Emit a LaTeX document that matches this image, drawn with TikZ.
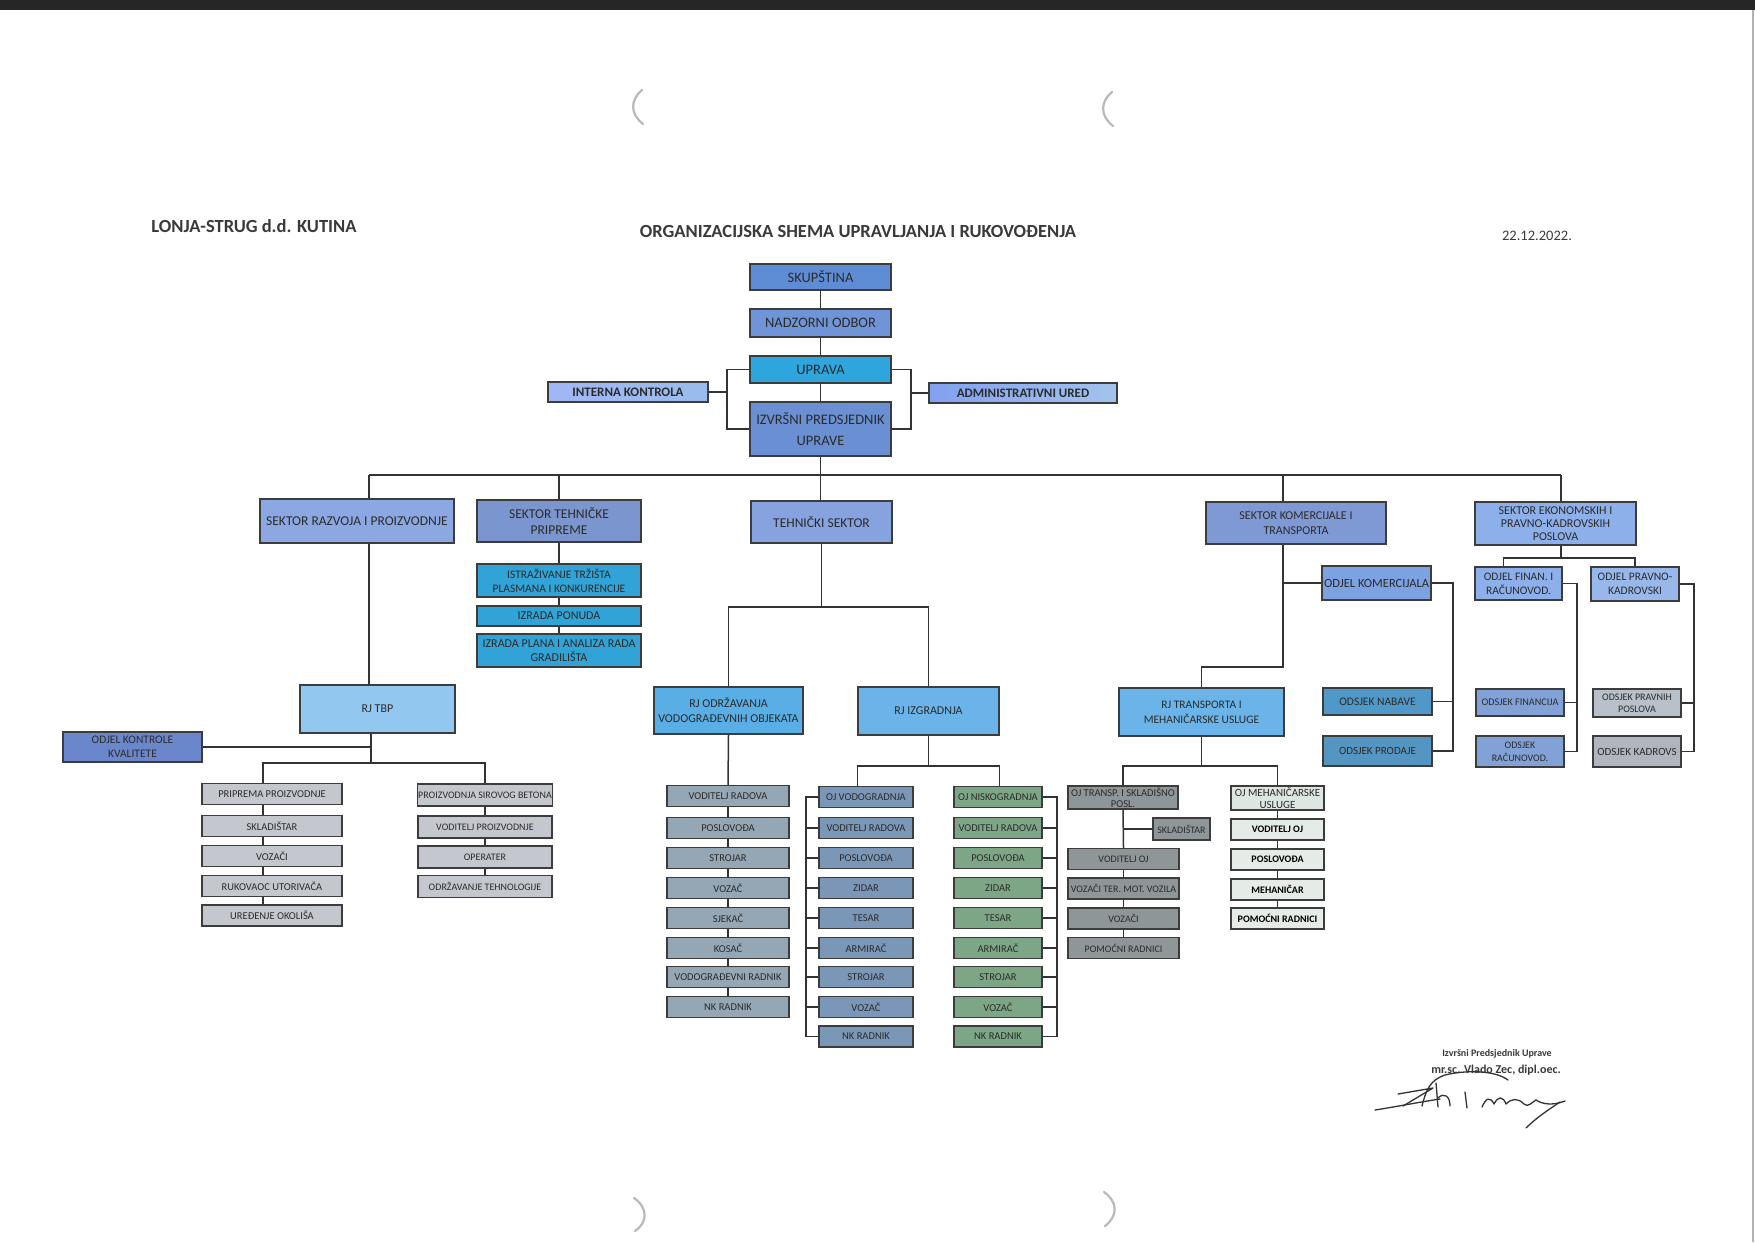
\documentclass[tikz,border=0pt]{standalone}
\usepackage{fontspec}
\setmainfont{Carlito}
\usetikzlibrary{calc}
\definecolor{lnc}{HTML}{333333}
\definecolor{boxline}{HTML}{3C3C3C}
\definecolor{txt}{HTML}{2B2B2B}
\definecolor{ttl}{HTML}{3A3A3A}
\definecolor{cSkup}{HTML}{5E8DD5}
\definecolor{cNadz}{HTML}{6F95D8}
\definecolor{cUpr}{HTML}{2EA5DC}
\definecolor{cIzv}{HTML}{6B8FD3}
\definecolor{cSide}{HTML}{98BDEC}
\definecolor{cSek}{HTML}{86A3E0}
\definecolor{cCyan}{HTML}{31A3D7}
\definecolor{cRJ}{HTML}{6AB4EA}
\definecolor{cRJo}{HTML}{5AAEE6}
\definecolor{cTBP}{HTML}{92C8F0}
\definecolor{cKK}{HTML}{6A87CC}
\definecolor{cGrayL}{HTML}{C4C8CE}
\definecolor{cOdr}{HTML}{95A6B5}
\definecolor{cVodo}{HTML}{7A97B8}
\definecolor{cNisko}{HTML}{7DA686}
\definecolor{cTrans}{HTML}{8E9698}
\definecolor{cMeh}{HTML}{DEE6E1}
\definecolor{cKom}{HTML}{7CA2E2}
\definecolor{cTeal}{HTML}{4F98C8}
\definecolor{cFin}{HTML}{8DB0EA}
\definecolor{cGrayB}{HTML}{B8C0C9}
\newcommand\fsTop{\fontsize{14.5}{17}\selectfont}
\newcommand\fsSek{\fontsize{13.5}{16}\selectfont}
\newcommand\fsCol{\fontsize{10.5}{12}\selectfont}
\newcommand\fsTen{\fontsize{10}{11}\selectfont}
\newcommand\obox[6]{\node[bx,#1,minimum width=#4pt,minimum height=#5pt] (#2) at (#3) {#6};}
\begin{document}
\begin{tikzpicture}[x=1pt,y=-1pt,
  bx/.style={draw=boxline, line width=1.1pt, inner sep=1pt, align=center, text=txt, font=\fsCol},
  conn/.style={draw=lnc, line width=1.5pt},
  scanmark/.style={draw=gray!55, line width=2.2pt, line cap=round},
  sig/.style={draw=black!80, line width=1.3pt, line cap=round, line join=round}]
\useasboundingbox (0,0) rectangle (1755,1242);
\fill[white] (0,0) rectangle (1755,1242);
% scan artefacts
\fill[black!85] (0,0) rectangle (1755,10);
\draw[gray!60, line width=1.5pt] (1753,10) -- (1753,1242);
\draw[scanmark] (642,90) .. controls (630,100) and (630,114) .. (643,124);
\draw[scanmark] (1112,92) .. controls (1100,102) and (1100,116) .. (1113,126);
\draw[scanmark] (634,1198) .. controls (648,1208) and (648,1222) .. (635,1231);
\draw[scanmark] (1104,1192) .. controls (1118,1202) and (1118,1216) .. (1105,1226);

% titles
\node[font=\bfseries\fontsize{18.5}{20}\selectfont, text=ttl] (t1) at (254,226) {LONJA-STRUG d.d. KUTINA};
\node[font=\bfseries\fontsize{18.5}{20}\selectfont, text=ttl] (t2) at (858,231) {ORGANIZACIJSKA SHEMA UPRAVLJANJA I RUKOVOĐENJA};
\node[font=\fontsize{14.5}{16}\selectfont, text=ttl] (t3) at (1537,236) {22.12.2022.};

% top
\obox{fill=cSkup,font=\fsTop}{skup}{820.5,277}{141}{26}{SKUPŠTINA}
\obox{fill=cNadz,font=\fsTop}{nadz}{820.5,323}{141}{28}{NADZORNI ODBOR}
\obox{fill=cUpr,font=\fsTop}{uprava}{820.5,369.5}{141}{27}{UPRAVA}
\obox{fill=cIzv,font=\fontsize{14.5}{21}\selectfont}{izvr}{820.5,429}{141}{54}{IZVRŠNI PREDSJEDNIK\\UPRAVE}
\obox{left color=cSide!80!blue!70!white,right color=cSide,font=\bfseries\fontsize{13}{14}\selectfont}{interna}{628,392}{160}{20}{INTERNA KONTROLA}
\obox{left color=cSide!85!blue,right color=cSide!90!white,font=\bfseries\fontsize{13}{14}\selectfont}{admin}{1023,393}{188}{20}{ADMINISTRATIVNI URED}

% sectors
\obox{fill=cSek!95!white,font=\fsSek}{srp}{357,521}{194}{44}{SEKTOR RAZVOJA I PROIZVODNJE}
\obox{fill=cSek!92!black,font=\fsSek}{stp}{559,521}{164}{42}{SEKTOR TEHNIČKE\\PRIPREME}
\obox{fill=cSek,font=\fsSek}{ts}{821.5,522}{141}{42}{TEHNIČKI SEKTOR}
\obox{fill=cSek!94!black,font=\fontsize{12}{15}\selectfont}{skt}{1296,523}{180}{42}{SEKTOR KOMERCIJALE I\\TRANSPORTA}
\obox{fill=cFin,font=\fontsize{12}{13}\selectfont}{sek}{1555.5,523.5}{161}{43}{SEKTOR EKONOMSKIH I\\PRAVNO-KADROVSKIH\\POSLOVA}

% tehnicka priprema
\obox{fill=cCyan,font=\fontsize{11.5}{14}\selectfont}{istr}{559,580.5}{164}{33}{ISTRAŽIVANJE TRŽIŠTA\\PLASMANA I KONKURENCIJE}
\obox{fill=cCyan,font=\fontsize{12}{13}\selectfont}{ponuda}{559,616}{164}{20}{IZRADA PONUDA}
\obox{fill=cCyan,font=\fontsize{12}{14}\selectfont}{plan}{559,650.5}{164}{33}{IZRADA PLANA I ANALIZA RADA\\GRADILIŠTA}

% RJ level
\obox{fill=cTBP,font=\fontsize{12}{14}\selectfont}{rjtbp}{377.5,709}{155}{48}{RJ TBP}
\obox{fill=cKK,font=\fontsize{11.5}{14}\selectfont}{kk}{132.5,747}{139}{30}{ODJEL KONTROLE\\KVALITETE}
\obox{fill=cRJo,font=\fontsize{12}{15}\selectfont}{rjod}{728.5,710.5}{149}{47}{RJ ODRŽAVANJA\\VODOGRAĐEVNIH OBJEKATA}
\obox{fill=cRJ,font=\fontsize{12}{14}\selectfont}{rjiz}{928.5,711}{141}{48}{RJ IZGRADNJA}
\obox{fill=cRJ,font=\fontsize{11.5}{15}\selectfont}{rjtr}{1201.5,712}{165}{48}{RJ TRANSPORTA I\\MEHANIČARSKE USLUGE}

% komercijala
\obox{fill=cKom,font=\fontsize{12.5}{14}\selectfont}{odk}{1376.5,583}{109}{34}{ODJEL KOMERCIJALA}
\obox{fill=cTeal,font=\fontsize{11.5}{13}\selectfont}{nab}{1377.5,701.5}{109}{27}{ODSJEK NABAVE}
\obox{fill=cTeal!90!gray,font=\fontsize{11}{13}\selectfont}{prod}{1377.5,751}{109}{30}{ODSJEK PRODAJE}

% ekonomski
\obox{fill=cFin,font=\fontsize{11.5}{14}\selectfont}{odf}{1518.5,583.5}{87}{33}{ODJEL FINAN. I\\RAČUNOVOD.}
\obox{fill=cFin!90!white,font=\fontsize{11.5}{14}\selectfont}{odp}{1635,584}{88}{34}{ODJEL PRAVNO-\\KADROVSKI}
\obox{fill=cFin!92!black,font=\fontsize{10.2}{12}\selectfont}{odfin}{1520,702.5}{88}{27}{ODSJEK FINANCIJA}
\obox{fill=cFin!92!black,font=\fontsize{10}{13}\selectfont}{odrac}{1520,751.5}{88}{31}{ODSJEK\\RAČUNOVOD.}
\obox{fill=cGrayB,font=\fontsize{10}{12}\selectfont}{odpp}{1637,703}{88}{28}{ODSJEK PRAVNIH\\POSLOVA}
\obox{fill=cGrayB!95!black,font=\fontsize{11}{12}\selectfont}{odkad}{1637,751.5}{88}{31}{ODSJEK KADROVS}

% transport / mehanicarske
\obox{fill=cTrans,font=\fontsize{10.5}{11}\selectfont}{ojt}{1123,797.5}{110}{23}{OJ TRANSP. I SKLADIŠNO\\POSL.}
\obox{fill=cTrans,font=\fsTen}{sklt}{1181.5,829}{57}{22}{SKLADIŠTAR}
\obox{fill=cMeh,font=\fontsize{11}{11.5}\selectfont}{ojm}{1277.5,798}{93}{24}{OJ MEHANIČARSKE\\USLUGE}

% columns
\foreach \yy/\lbl [count=\i] in {794/PRIPREMA PROIZVODNJE,826/SKLADIŠTAR,856/VOZAČI,886/RUKOVAOC UTORIVAČA,915.5/UREĐENJE OKOLIŠA}
  {\node[bx,fill=cGrayL,minimum width=140pt,minimum height=21pt] (pp\i) at (272,\yy) {\lbl};}
\foreach \yy/\lbl [count=\i] in {795/PROIZVODNJA SIROVOG BETONA,827/VODITELJ PROIZVODNJE,857/OPERATER,886.5/ODRŽAVANJE TEHNOLOGIJE}
  {\node[bx,fill=cGrayL,font=\fsTen,minimum width=134pt,minimum height=22pt] (pb\i) at (485,\yy) {\lbl};}
\foreach \yy/\lbl [count=\i] in {796/VODITELJ RADOVA,828/POSLOVOĐA,858/STROJAR,888/VOZAČ,918/SJEKAČ,948/KOSAČ,977/VODOGRAĐEVNI RADNIK,1007/NK RADNIK}
  {\node[bx,fill=cOdr,minimum width=122pt,minimum height=21pt] (od\i) at (728,\yy) {\lbl};}
\foreach \yy/\lbl [count=\i] in {797/OJ VODOGRADNJA,828/VODITELJ RADOVA,858/POSLOVOĐA,888/ZIDAR,918/TESAR,948/ARMIRAČ,977/STROJAR,1007/VOZAČ,1036.5/NK RADNIK}
  {\node[bx,fill=cVodo,minimum width=94pt,minimum height=21pt] (vo\i) at (866,\yy) {\lbl};}
\foreach \yy/\lbl [count=\i] in {797/OJ NISKOGRADNJA,828/VODITELJ RADOVA,858/POSLOVOĐA,888/ZIDAR,918/TESAR,948/ARMIRAČ,977/STROJAR,1007/VOZAČ,1036.5/NK RADNIK}
  {\node[bx,fill=cNisko,minimum width=88pt,minimum height=21pt] (ni\i) at (998,\yy) {\lbl};}
\foreach \yy/\lbl [count=\i] in {859/VODITELJ OJ,888.5/{VOZAČI TER. MOT. VOZILA},918.5/VOZAČI,948/POMOĆNI RADNICI}
  {\node[bx,fill=cTrans,font=\fsTen,minimum width=111pt,minimum height=21pt] (tv\i) at (1123.5,\yy) {\lbl};}
\foreach \yy/\lbl [count=\i] in {829.5/VODITELJ OJ,859.5/POSLOVOĐA,889.5/MEHANIČAR,918.5/POMOĆNI RADNICI}
  {\node[bx,fill=cMeh!80!white,text=black,font=\bfseries\fsTen,minimum width=93pt,minimum height=21pt] (mh\i) at (1277.5,\yy) {\lbl};}

% ---------- connectors ----------
\draw[conn] (skup.south) -- (nadz.north);
\draw[conn] (nadz.south) -- (uprava.north);
\draw[conn] (uprava.south) -- (izvr.north);
\coordinate (lb) at (727,0);
\coordinate (rb) at (911,0);
\draw[conn] (uprava.west) -| (izvr.west -| lb) -- (izvr.west);
\draw[conn] (interna.east) -- (interna.east -| lb);
\draw[conn] (uprava.east) -| (izvr.east -| rb) -- (izvr.east);
\draw[conn] (admin.west) -- (admin.west -| rb);

\coordinate (b1) at (369,475);
\coordinate (b5) at (1561,475);
\coordinate (bskt) at (1283,475);
\draw[conn] (b1) -- (b5);
\draw[conn] (izvr.south) -- (izvr.south |- ts.north);
\draw[conn] (b1) -- (b1 |- srp.north);
\draw[conn] (stp.north |- b1) -- (stp.north);
\draw[conn] (bskt) -- (bskt |- skt.north);
\draw[conn] (b5) -- (b5 |- sek.north);

% razvoj
\draw[conn] (srp.south -| b1) -- (rjtbp.north -| b1);
\coordinate (tb) at (371,763);
\coordinate (lcx) at (263,763);
\draw[conn] (rjtbp.south -| tb) -- (tb);
\draw[conn] (kk.east) -- (kk.east -| tb);
\draw[conn] (pp1.north -| lcx) -- (lcx) -- (pb1.north |- lcx) -- (pb1.north);
\foreach \i [evaluate=\i as \j using int(\i+1)] in {1,...,4}
  \draw[conn] (pp\i.south -| lcx) -- (pp\j.north -| lcx);
\foreach \i [evaluate=\i as \j using int(\i+1)] in {1,...,3}
  \draw[conn] (pb\i.south) -- (pb\j.north);

% tehnicka priprema
\draw[conn] (stp.south) -- (istr.north);
\draw[conn] (istr.south) -- (ponuda.north);
\draw[conn] (ponuda.south) -- (plan.north);

% tehnicki sektor
\coordinate (tsb) at (0,607);
\draw[conn] (ts.south) -- (ts.south |- tsb);
\draw[conn] (rjod.north) |- (ts.south |- tsb) -| (rjiz.north);
\draw[conn] (rjod.south) -- (od1.north);
\foreach \i [evaluate=\i as \j using int(\i+1)] in {1,...,7}
  \draw[conn] (od\i.south) -- (od\j.north);
\coordinate (izb) at (0,766);
\draw[conn] (rjiz.south) -- (rjiz.south |- izb);
\draw[conn] (vo1.north -| rjiz.west) |- (rjiz.south |- izb) -| (ni1.north -| rjiz.east);
\coordinate (vbx) at (806,0);
\coordinate (nbx) at (1057,0);
\draw[conn] (vo1.west) -| (vo9.west -| vbx) -- (vo9.west);
\draw[conn] (ni1.east) -| (ni9.east -| nbx) -- (ni9.east);
\foreach \i in {2,...,8}{
  \draw[conn] (vo\i.west) -- (vo\i.west -| vbx);
  \draw[conn] (ni\i.east) -- (ni\i.east -| nbx);}

% komercijala i transport
\coordinate (k1) at (1283,667);
\draw[conn] (skt.south -| bskt) -- (k1) -| (rjtr.north);
\draw[conn] (odk.west -| bskt) -- (odk.west);
\coordinate (kbx) at (1453,0);
\draw[conn] (odk.east) -| (prod.east -| kbx) -- (prod.east);
\draw[conn] (nab.east) -- (nab.east -| kbx);
\coordinate (trb) at (0,766);
\draw[conn] (rjtr.south) -- (rjtr.south |- trb);
\draw[conn] (ojt.north) |- (rjtr.south |- trb) -| (ojm.north);
\draw[conn] (ojt.south) -- (tv1.north);
\draw[conn] (sklt.west) -- (sklt.west -| ojt.south);
\foreach \i [evaluate=\i as \j using int(\i+1)] in {1,...,3}
  \draw[conn] (tv\i.south) -- (tv\j.north);
\draw[conn] (ojm.south) -- (mh1.north);
\foreach \i [evaluate=\i as \j using int(\i+1)] in {1,...,3}
  \draw[conn] (mh\i.south) -- (mh\j.north);

% ekonomski
\coordinate (e1) at (1561,558);
\draw[conn] (sek.south -| b5) -- (e1);
\draw[conn] ([xshift=-15pt]odf.north) |- (e1) -| (odp.north);
\coordinate (fbx) at (1577,0);
\coordinate (pbx) at (1694,0);
\draw[conn] (odf.east) -| (odrac.east -| fbx) -- (odrac.east);
\draw[conn] (odfin.east) -- (odfin.east -| fbx);
\draw[conn] (odp.east) -| (odkad.east -| pbx) -- (odkad.east);
\draw[conn] (odpp.east) -- (odpp.east -| pbx);

% signature block
\node[font=\bfseries\fontsize{10}{11}\selectfont, text=ttl] (s1) at (1497,1054) {Izvršni Predsjednik Uprave};
\node[font=\bfseries\fontsize{12}{13}\selectfont, text=ttl] (s2) at (1496,1070) {mr.sc. Vlado Zec, dipl.oec.};
\draw[sig] (1375,1110) .. controls (1400,1106) and (1420,1102) .. (1440,1099);
\draw[sig] (1398,1094) -- (1433,1088) -- (1403,1106);
\draw[sig] (1422,1106) .. controls (1426,1090) and (1430,1080) .. (1445,1075) .. controls (1465,1070) and (1495,1070) .. (1508,1080);
\draw[sig] (1436,1083) -- (1438,1107);
\draw[sig] (1438,1098) .. controls (1444,1092) and (1450,1096) .. (1450,1106);
\draw[sig] (1465,1092) -- (1467,1108);
\draw[sig] (1482,1107) .. controls (1486,1098) and (1490,1096) .. (1494,1104) .. controls (1498,1096) and (1503,1096) .. (1506,1104) .. controls (1512,1098) and (1518,1098) .. (1524,1104) .. controls (1528,1108) and (1532,1102) .. (1536,1100);
\draw[sig] (1536,1100) .. controls (1542,1104) and (1552,1106) .. (1565,1101);
\draw[sig] (1560,1102) .. controls (1548,1110) and (1536,1118) .. (1526,1128);
\end{tikzpicture}
\end{document}
